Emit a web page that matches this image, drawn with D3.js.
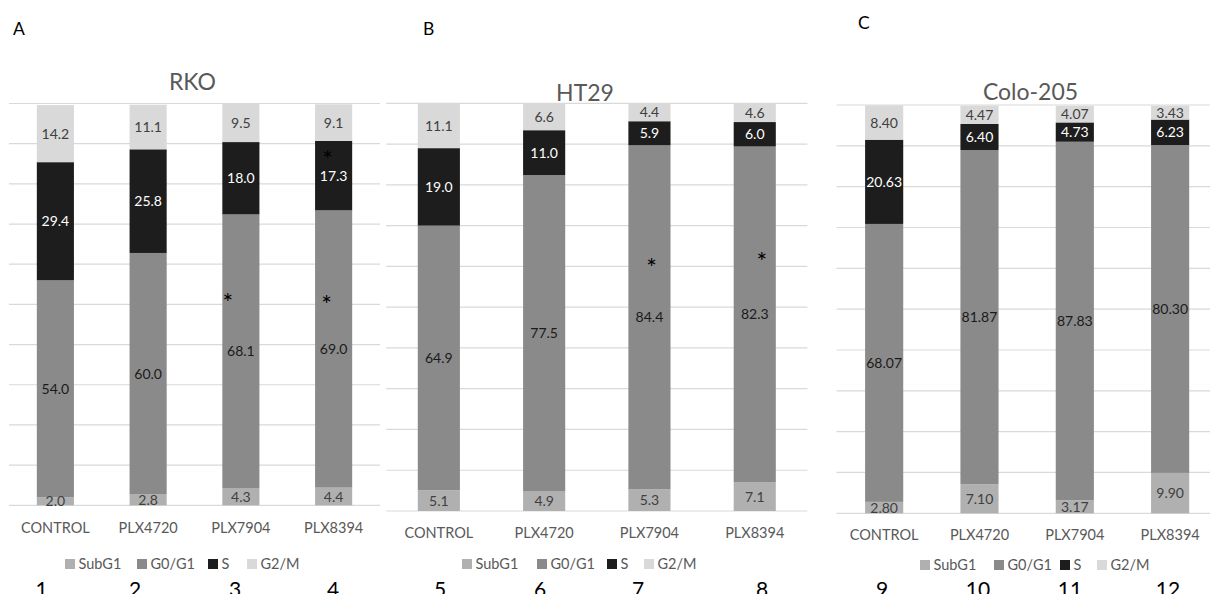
<!DOCTYPE html>
<html>
<head>
<meta charset="utf-8">
<script src="https://cdn.jsdelivr.net/npm/d3@7"></script>
<style>
  html, body { margin: 0; padding: 0; background: #fff; overflow: hidden; }
  text { font-family: Lato, "Open Sans", "Liberation Sans", sans-serif; }
</style>
</head>
<body>
<svg id="fig" width="1210" height="594"></svg>
<script>
// ---- data -------------------------------------------------------------
const categories = ["CONTROL", "PLX4720", "PLX7904", "PLX8394"];
const phases = ["SubG1", "G0/G1", "S", "G2/M"];
const gridValues = [0, 10, 20, 30, 40, 50, 60, 70, 80, 90, 100];
const laneNumbers = ["1", "2", "3", "4", "5", "6", "7", "8", "9", "10", "11", "12"];

// RKO cell-cycle distribution (%)
const rkoSubG1 = [2.0, 2.8, 4.3, 4.4];
const rkoG0G1  = [54.0, 60.0, 68.1, 69.0];
const rkoS     = [29.4, 25.8, 18.0, 17.3];
const rkoG2M   = [14.2, 11.1, 9.5, 9.1];

// HT29 cell-cycle distribution (%)
const ht29SubG1 = [5.1, 4.9, 5.3, 7.1];
const ht29G0G1  = [64.9, 77.5, 84.4, 82.3];
const ht29S     = [19.0, 11.0, 5.9, 6.0];
const ht29G2M   = [11.1, 6.6, 4.4, 4.6];

// Colo-205 cell-cycle distribution (%)
const coloSubG1 = [2.80, 7.10, 3.17, 9.90];
const coloG0G1  = [68.07, 81.87, 87.83, 80.30];
const coloS     = [20.63, 6.40, 4.73, 6.23];
const coloG2M   = [8.40, 4.47, 4.07, 3.43];

// significance marks: cell line, treatment, height on the % axis
const sigMarks = [
  { line: "RKO",  category: "PLX7904", value: 51.9 },
  { line: "RKO",  category: "PLX8394", value: 51.3 },
  { line: "RKO",  category: "PLX8394", value: 87.4 },
  { line: "HT29", category: "PLX7904", value: 61.1 },
  { line: "HT29", category: "PLX8394", value: 62.5 }
];
// horizontal nudge of each mark inside its bar (px)
const sigNudge = [-13, -7, -6, 2, 7];

// ---- styling / layout -------------------------------------------------
const phaseFill  = { "SubG1": "#b0b0b0", "G0/G1": "#8a8a8a", "S": "#1d1d1d", "G2/M": "#d9d9d9" };
const phaseLabel = { "SubG1": "#404040", "G0/G1": "#1a1a1a", "S": "#ffffff", "G2/M": "#404040" };

const panels = [
  { letter: "A", name: "RKO", series: [rkoSubG1, rkoG0G1, rkoS, rkoG2M], digits: 1,
    x0: 9, x1: 380, yTop: 103.5, yBot: 505.3,
    letterPos: [13, 35], titleX: 192.5, titleY: 90, catY: 533.3,
    legendX: [65, 137, 208, 247], legendY: 564, lanes: [41.7, 135, 235, 333] },
  { letter: "B", name: "HT29", series: [ht29SubG1, ht29G0G1, ht29S, ht29G2M], digits: 1,
    x0: 386.2, x1: 807.4, yTop: 103.3, yBot: 511,
    letterPos: [423, 35], titleX: 585, titleY: 100.5, catY: 538.3,
    legendX: [462, 537, 607, 644], legendY: 564, lanes: [440, 540, 638, 762] },
  { letter: "C", name: "Colo-205", series: [coloSubG1, coloG0G1, coloS, coloG2M], digits: 2,
    x0: 836.5, x1: 1217.8, yTop: 105, yBot: 513.3,
    letterPos: [858, 29], titleX: 1030.5, titleY: 100, catY: 540,
    legendX: [920, 994, 1060, 1097], legendY: 565, lanes: [882, 978, 1070, 1168] }
];

const svg = d3.select("#fig");

panels.forEach((p, pi) => {
  const g = svg.append("g");

  const x = d3.scaleBand().domain(categories).range([p.x0, p.x1]).paddingInner(0.6).paddingOuter(0.3);
  const y = d3.scaleLinear().domain([0, 100]).range([p.yBot, p.yTop]);

  // horizontal gridlines
  g.append("g").selectAll("line").data(gridValues).join("line")
    .attr("x1", p.x0).attr("x2", Math.min(p.x1, 1210))
    .attr("y1", d => y(d)).attr("y2", d => y(d))
    .attr("stroke", "#d9d9d9").attr("stroke-width", 1.2);

  // stack the four phases
  const rows = categories.map((c, i) => {
    const r = { category: c };
    phases.forEach((ph, k) => { r[ph] = p.series[k][i]; });
    return r;
  });
  const stacked = d3.stack().keys(phases)(rows);

  const layer = g.selectAll("g.layer").data(stacked).join("g").attr("class", "layer")
    .attr("fill", d => phaseFill[d.key]);
  layer.selectAll("rect").data(d => d).join("rect")
    .attr("x", d => x(d.data.category))
    .attr("width", x.bandwidth())
    .attr("y", d => y(d[1]))
    .attr("height", d => y(d[0]) - y(d[1]));

  // value labels centred in each segment
  const fmt = d3.format("." + p.digits + "f");
  stacked.forEach(s => {
    g.append("g").selectAll("text").data(s).join("text")
      .attr("x", d => x(d.data.category) + x.bandwidth() / 2)
      .attr("y", d => (y(d[0]) + y(d[1])) / 2)
      .attr("dy", "0.36em")
      .attr("text-anchor", "middle")
      .attr("font-size", 14)
      .attr("fill", phaseLabel[s.key])
      .text(d => fmt(d.data[s.key]));
  });

  // category axis labels
  g.append("g").selectAll("text").data(categories).join("text")
    .attr("x", d => x(d) + x.bandwidth() / 2)
    .attr("y", p.catY)
    .attr("text-anchor", "middle")
    .attr("font-size", 14.5)
    .attr("fill", "#595959")
    .text(d => d);

  // chart title and panel letter
  g.append("text").attr("x", p.titleX).attr("y", p.titleY)
    .attr("text-anchor", "middle").attr("font-size", 23).attr("fill", "#595959").text(p.name);
  g.append("text").attr("x", p.letterPos[0]).attr("y", p.letterPos[1])
    .attr("font-size", 17.5).attr("fill", "#000").text(p.letter);

  // legend
  const leg = g.append("g").selectAll("g").data(phases).join("g")
    .attr("transform", (d, i) => `translate(${p.legendX[i]},${p.legendY})`);
  leg.append("rect").attr("x", 0).attr("y", -5).attr("width", 10).attr("height", 10)
    .attr("fill", d => phaseFill[d]);
  leg.append("text").attr("x", 13.5).attr("dy", "0.36em").attr("font-size", 14.5)
    .attr("fill", "#595959").text(d => d);

  // lane numbers beneath each panel (bottom edge of the figure crops them)
  g.append("g").selectAll("text").data(laneNumbers.slice(pi * 4, pi * 4 + 4)).join("text")
    .attr("x", (d, i) => p.lanes[i]).attr("y", 596.5)
    .attr("text-anchor", "middle").attr("font-size", 21).attr("fill", "#000").text(d => d);

  // significance asterisks
  sigMarks.forEach((m, mi) => {
    if (m.line !== p.name) return;
    g.append("text")
      .attr("x", x(m.category) + x.bandwidth() / 2 + sigNudge[mi])
      .attr("y", y(m.value) + 15)
      .attr("text-anchor", "middle")
      .attr("font-family", "DejaVu Sans, sans-serif")
      .attr("font-size", 25)
      .attr("fill", "#000")
      .text("*");
  });
});
</script>
</body>
</html>
